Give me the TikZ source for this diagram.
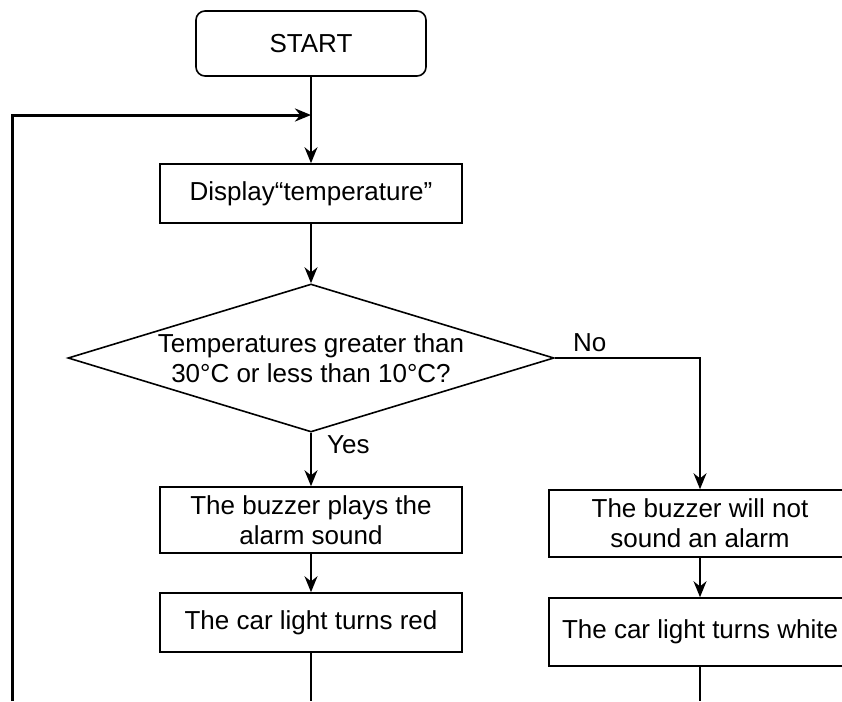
\documentclass[tikz,border=0pt]{standalone}
\usepackage{fontspec}
\setmainfont{Liberation Sans}
\usetikzlibrary{shapes.geometric}
\usetikzlibrary{arrows.meta}
\tikzset{
	stepbox/.style={draw, line width=1.6pt, minimum width=302pt, align=center, inner sep=0pt},
	flow/.style={line width=1.7pt, -{Stealth[length=16pt,width=13pt]}},
	plain/.style={line width=1.7pt}
}

\begin{document}
\begin{tikzpicture}[x=1pt, y=-1pt, font=\fontsize{26}{30}\selectfont]
	\useasboundingbox (0,0) rectangle (842,701);
	\node[stepbox, rounded corners=9pt, minimum width=230pt, minimum height=65pt] (start) at (311,43.5){START};
	\node[stepbox, minimum height=59pt] (disp) at (311,193.5){Display“temperature”};
	\node[draw, line width=1.6pt, diamond, aspect=3.28, inner sep=0pt, minimum width=486pt, minimum height=148pt, align=center] (cond) at (311,358){Temperatures greater than\\30°C or less than 10°C?};
	\node[stepbox, minimum height=66pt] (buzz) at (311,520){The buzzer plays the\\alarm sound};%yes
	\node[stepbox, minimum height=59pt] (red) at (311,622.5){The car light turns red};
	\node[stepbox, minimum height=67pt] (nobuzz) at (700,523.5){The buzzer will not\\sound an alarm};%no
	\node[stepbox, minimum height=68pt] (white) at (700,632){The car light turns white};
	\coordinate (join) at (311,115);
	\coordinate (redend) at (311,701);
	\coordinate (whiteend) at (700,701);
	\coordinate (back) at (12,701);
	\draw[flow] (start) -- (disp);
	\draw[flow] (disp) -- (cond.north);
	\draw[flow] (cond.south) --node[pos=0.22, right, xshift=12pt]{Yes} (buzz);
	\draw[flow] (cond.east) -| node[pos=0.12, above, yshift=2pt]{No} (nobuzz);
	\draw[flow] (buzz) -- (red);
	\draw[flow] (nobuzz) -- (white);
	\draw[plain] (red) -- (redend);
	\draw[plain] (white) -- (whiteend);
	\draw[flow, line width=3pt] (back) |- (join);
\end{tikzpicture}
\end{document}
